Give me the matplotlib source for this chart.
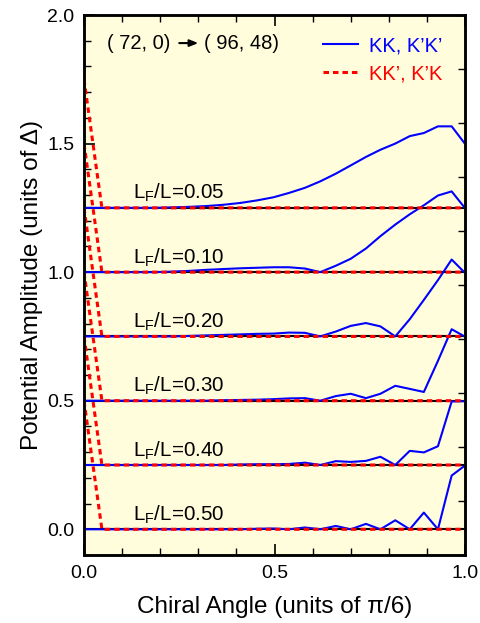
import numpy as np
import matplotlib
matplotlib.use("Agg")
import matplotlib.pyplot as plt
from matplotlib.ticker import MultipleLocator

plt.rcParams['font.family'] = ['Liberation Sans', 'DejaVu Sans']

# chiral angle of each tube along the path (units of pi/6)
angle = [0.000, 0.047, 0.094, 0.140, 0.186, 0.232, 0.277, 0.321, 0.366, 0.410,
         0.454, 0.497, 0.538, 0.580, 0.620, 0.661, 0.700, 0.740, 0.778, 0.817,
         0.855, 0.892, 0.929, 0.965, 1.000]

ratios = ["0.05", "0.10", "0.20", "0.30", "0.40", "0.50"]
offsets = [1.25, 1.00, 0.75, 0.50, 0.25, 0.00]

# KK, K'K' amplitudes (units of Delta), relative to each offset
kk_005 = [0, 0, 0, 0, 0, 0.002, 0.004, 0.007, 0.012, 0.019, 0.029, 0.041, 0.058,
          0.078, 0.103, 0.133, 0.165, 0.198, 0.226, 0.250, 0.279, 0.291, 0.317, 0.317, 0.249]
kk_010 = [0, 0, 0, 0, 0, 0.002, 0.005, 0.009, 0.012, 0.015, 0.017, 0.019, 0.019,
          0.014, 0.0, 0.025, 0.052, 0.092, 0.140, 0.185, 0.225, 0.260, 0.298, 0.314, 0.249]
kk_020 = [0, 0, 0, 0, 0, 0, 0.002, 0.004, 0.006, 0.008, 0.010, 0.011, 0.015,
          0.014, 0.0, 0.019, 0.041, 0.052, 0.039, 0.0, 0.067, 0.142, 0.219, 0.299, 0.247]
kk_030 = [0, 0, 0, 0, 0, 0, 0, 0, 0.002, 0.003, 0.004, 0.006, 0.009,
          0.010, 0.0, 0.018, 0.027, 0.010, 0.027, 0.058, 0.046, 0.034, 0.155, 0.278, 0.249]
kk_040 = [0, 0, 0, 0, 0, 0, 0, 0, 0, 0.002, 0.003, 0.003, 0.004,
          0.009, 0.0, 0.015, 0.012, 0.016, 0.032, 0.0, 0.055, 0.049, 0.073, 0.247, 0.248]
kk_050 = [0, 0, 0, 0, 0, 0, 0, 0, 0, 0, 0.002, 0.003, 0.0,
          0.007, 0.0, 0.013, 0.0, 0.021, 0.0, 0.035, 0.0, 0.065, 0.0, 0.209, 0.248]
kk_all = [kk_005, kk_010, kk_020, kk_030, kk_040, kk_050]

# KK', K'K amplitudes (same for every L_F/L)
kkp = [0.5] + [0.0] * 24

bg = '#fffddc'
fig = plt.figure(figsize=(4.8, 6.23), dpi=100)
ax = fig.add_axes([84/480, 1-555/623, 381/480, 540/623])
ax.set_facecolor(bg)

x = np.array(angle)
for r, b, kk in zip(ratios, offsets, kk_all):
    ax.axhline(b, color='black', lw=1.5, zorder=2)
    ax.plot(x, b + np.array(kk), color='#0000ff', lw=1.5, zorder=3)
    ax.plot(x, b + np.array(kkp), color='#ff0000', lw=2.2, ls=(0, (1.8, 1.3)), zorder=4)
    ax.text(0.129, b + 0.035, r'L$_{\mathregular{F}}$/L=' + r, fontsize=14.8,
            ha='left', va='baseline', zorder=5)

# legend
hb, = ax.plot([], [], color='#0000ff', lw=1.5, label='KK, K\u2019K\u2019')
hr, = ax.plot([], [], color='#ff0000', lw=2.2, ls=(0, (1.8, 1.3)), label='KK\u2019, K\u2019K')
leg = ax.legend(handles=[hb, hr], loc='upper right', bbox_to_anchor=(0.962, 0.976),
                frameon=False, fontsize=14.5, borderaxespad=0,
                handlelength=1.75, handletextpad=0.55, labelspacing=0.45,
                labelcolor='linecolor')

# path annotation
ax.text(0.226, 0.948, '( 72, 0)', transform=ax.transAxes, fontsize=14.5,
        ha='right', va='center')
ax.text(0.316, 0.948, '( 96, 48)', transform=ax.transAxes, fontsize=14.5,
        ha='left', va='center')
ax.annotate('', xy=(0.300, 0.948), xytext=(0.250, 0.948), xycoords='axes fraction',
            arrowprops=dict(arrowstyle='-|>,head_length=0.5,head_width=0.2',
                            color='black', lw=1.5, shrinkA=0, shrinkB=0))

ax.set_xlim(0, 1.0)
ax.set_ylim(-0.1, 2.0)
ax.xaxis.set_major_locator(MultipleLocator(0.5))
ax.xaxis.set_minor_locator(MultipleLocator(0.1))
ax.yaxis.set_major_locator(MultipleLocator(0.5))
ax.yaxis.set_minor_locator(MultipleLocator(0.1))
ax.xaxis.set_major_formatter(matplotlib.ticker.FormatStrFormatter('%.1f'))
ax.yaxis.set_major_formatter(matplotlib.ticker.FormatStrFormatter('%.1f'))
ax.tick_params(which='both', direction='in', top=True, right=False, labelsize=14)
ax.tick_params(which='major', length=8, width=1.2, pad=7)
ax.tick_params(which='minor', length=5, width=1.0)

ax2 = ax.twinx()
ax2.set_ylim(0, 1)
ax2.set_yticks(np.arange(0, 1.01, 0.1))
ax2.tick_params(axis='y', direction='in', length=5, width=1.0, labelright=False)

for a in (ax, ax2):
    for s in a.spines.values():
        s.set_linewidth(1.8)

ax.set_xlabel('Chiral Angle (units of \u03c0/6)', fontsize=17.5)
ax.set_ylabel('Potential Amplitude (units of \u0394)', fontsize=17.5)
ax.xaxis.set_label_coords(0.5, -0.075)
ax.yaxis.set_label_coords(-0.107, 0.5)

fig.savefig('out.png', dpi=100, facecolor='white')
